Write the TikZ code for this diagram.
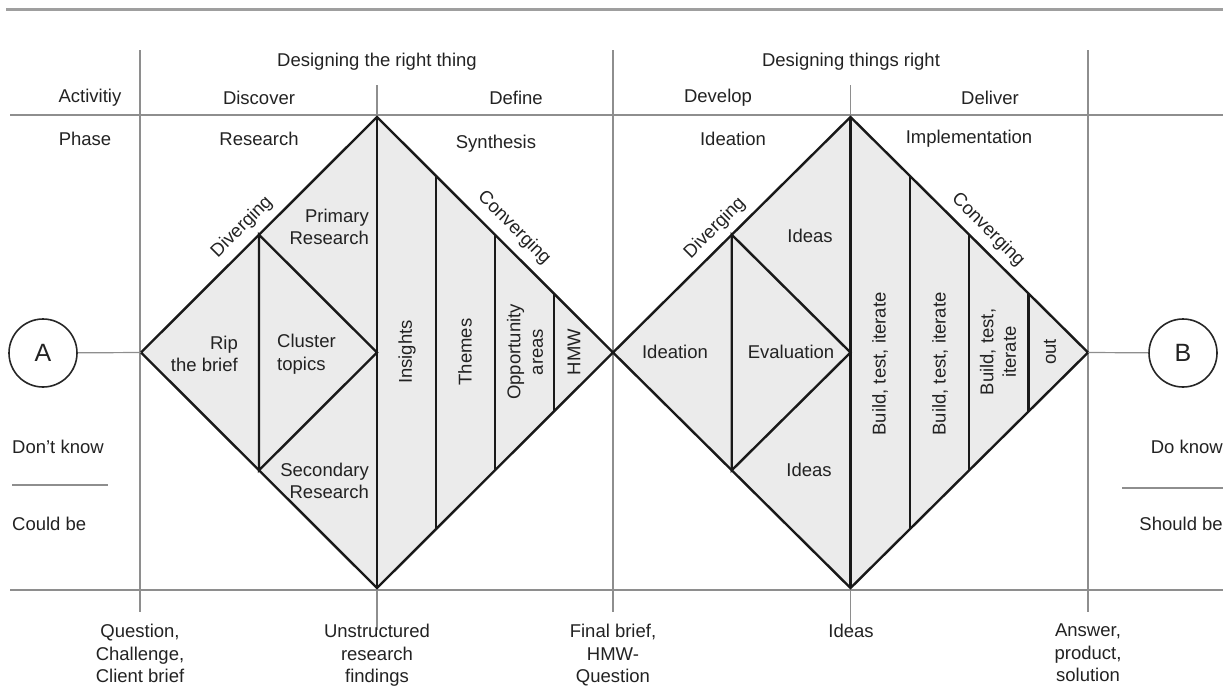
\documentclass[tikz,border=0pt]{standalone}
\usepackage{fontspec}
\setmainfont{Liberation Sans}
\usetikzlibrary{calc}
\definecolor{ink}{HTML}{222222}
\definecolor{rule}{HTML}{8E8E8E}
\definecolor{pane}{HTML}{EBEBEB}

\begin{document}
\begin{tikzpicture}[x=1pt,y=-1pt,
    every node/.style={text=ink,font=\fontsize{18.5}{22.5}\selectfont,inner sep=0pt},
    grid/.style={draw=rule,line width=1.2pt},
    dia/.style={draw=black!90,line width=2.4pt,line join=miter},
    stage/.style={circle,draw=black!85,line width=1.6pt,minimum size=68pt,font=\fontsize{25}{25}\selectfont},
    multi/.style={align=center}] %
  \useasboundingbox (0,0) rectangle (1223,689);
  % frame
  \draw[draw=rule!85,line width=3pt] (6,9) -- (1223,9);
  \draw[grid] (10,115) -- (1223,115);
  \draw[grid] (10,590) -- (1223,590);
  \foreach \x in {140,613,1088} \draw[grid] (\x,50) -- (\x,612);
  \foreach \x in {377,850.5} \draw[grid] (\x,85) -- (\x,630);
  \draw[grid] (12,485) -- (108,485);
  \draw[grid] (1122,488) -- (1223,488);
  % the two diamonds
  \coordinate (L) at (141,352.5);
  \coordinate (T1) at (377,117);
  \coordinate (C1) at (377,352.5);
  \coordinate (B1) at (377,588);
  \coordinate (M) at (613,352.5);
  \coordinate (T2) at (850.5,117);
  \coordinate (C2) at (850.5,352.5);
  \coordinate (B2) at (850.5,588);
  \coordinate (R) at (1088,352.5);
  \filldraw[dia,fill=pane] (L) -- (T1) -- (M) -- (B1) -- cycle;
  \filldraw[dia,fill=pane] (M) -- (T2) -- (R) -- (B2) -- cycle;
  \draw[dia] (T1) -- (B1);
  \draw[dia] (T2) -- (B2);
  \draw[dia] ($(L)!.5!(T1)$) -- (C1) -- ($(L)!.5!(B1)$) -- cycle;
  \draw[dia] ($(M)!.5!(T2)$) -- (C2) -- ($(M)!.5!(B2)$) -- cycle;
  \foreach \k in {1,2,3} {
    \draw[dia] ($(T1)!\k/4!(M)$) -- ($(B1)!\k/4!(M)$);
    \draw[dia] ($(T2)!\k/4!(R)$) -- ($(B2)!\k/4!(R)$);
  }
  % start and end
  \node[stage] (A) at (43,353) {A};
  \node[stage] (B) at (1183,353) {B};
  \draw[grid] (A) -- (L);
  \draw[grid] (R) -- (B);
  % header
  \node (right1) at (377,62) {Designing the right thing};
  \node (right2) at (851,62) {Designing things right};
  \node (activity) at (90,98) {Activitiy};
  \node (discover) at (259,98) {Discover};
  \node (define) at (516,98) {Define};
  \node (develop) at (718,98) {Develop};
  \node (deliver) at (990,98) {Deliver};
  \node (phase) at (85,139) {Phase};
  \node (research) at (259,139) {Research};
  \node (synthesis) at (496,144) {Synthesis};
  \node (ideation) at (733,139) {Ideation};
  \node (implement) at (969,139) {Implementation};
  % left diamond
  \node[rotate=45] (div1) at (242,227) {Diverging};
  \node[rotate=-45] (conv1) at (514,228) {Converging};
  \node[multi,align=right,anchor=east] (primary) at (369,227) {Primary\\Research};
  \node[multi,align=right,anchor=east] (rip) at (238,354) {Rip\\the brief};
  \node[multi,align=left,anchor=west] (cluster) at (277,354) {Cluster\\topics};
  \node[multi,align=right,anchor=east] (secondary) at (369,481) {Secondary\\Research};
  \node[rotate=90] (insights) at (407,352) {Insights};
  \node[rotate=90] (themes) at (465,352) {Themes};
  \node[multi,rotate=90] (opport) at (525,352) {Opportunity\\areas};
  \node[rotate=90] (hmw) at (574,352) {HMW};
  % right diamond
  \node[rotate=45] (div2) at (715,228) {Diverging};
  \node[rotate=-45] (conv2) at (988,230) {Converging};
  \node (ideas1) at (810,236) {Ideas};
  \node (ideation2) at (675,352) {Ideation};
  \node (evaluation) at (791,352) {Evaluation};
  \node (ideas2) at (809,470) {Ideas};
  \node[rotate=90] (build1) at (880,364) {Build, test, iterate};
  \node[rotate=90] (build2) at (940,364) {Build, test, iterate};
  \node[multi,rotate=90] (build3) at (998,352) {Build, test,\\iterate};
  \node[rotate=90] (out) at (1050,352) {out};
  % sides
  \node[anchor=west] (dontknow) at (12,447) {Don't know};
  \node[anchor=west] (couldbe) at (12,524) {Could be};
  \node[anchor=east] (doknow) at (1223,447) {Do know};
  \node[anchor=east] (shouldbe) at (1223,524) {Should be};
  % outputs
  \node[multi,anchor=north] (question) at (140,624) {Question,\\Challenge,\\Client brief};
  \node[multi,anchor=north] (unstruct) at (377,624) {Unstructured\\research\\findings};
  \node[multi,anchor=north] (final) at (613,624) {Final brief,\\HMW-\\Question};
  \node[multi,anchor=north] (ideas3) at (851,624) {Ideas};
  \node[multi,anchor=north] (answer) at (1088,624) {Answer,\\product,\\solution};
\end{tikzpicture}
\end{document}
